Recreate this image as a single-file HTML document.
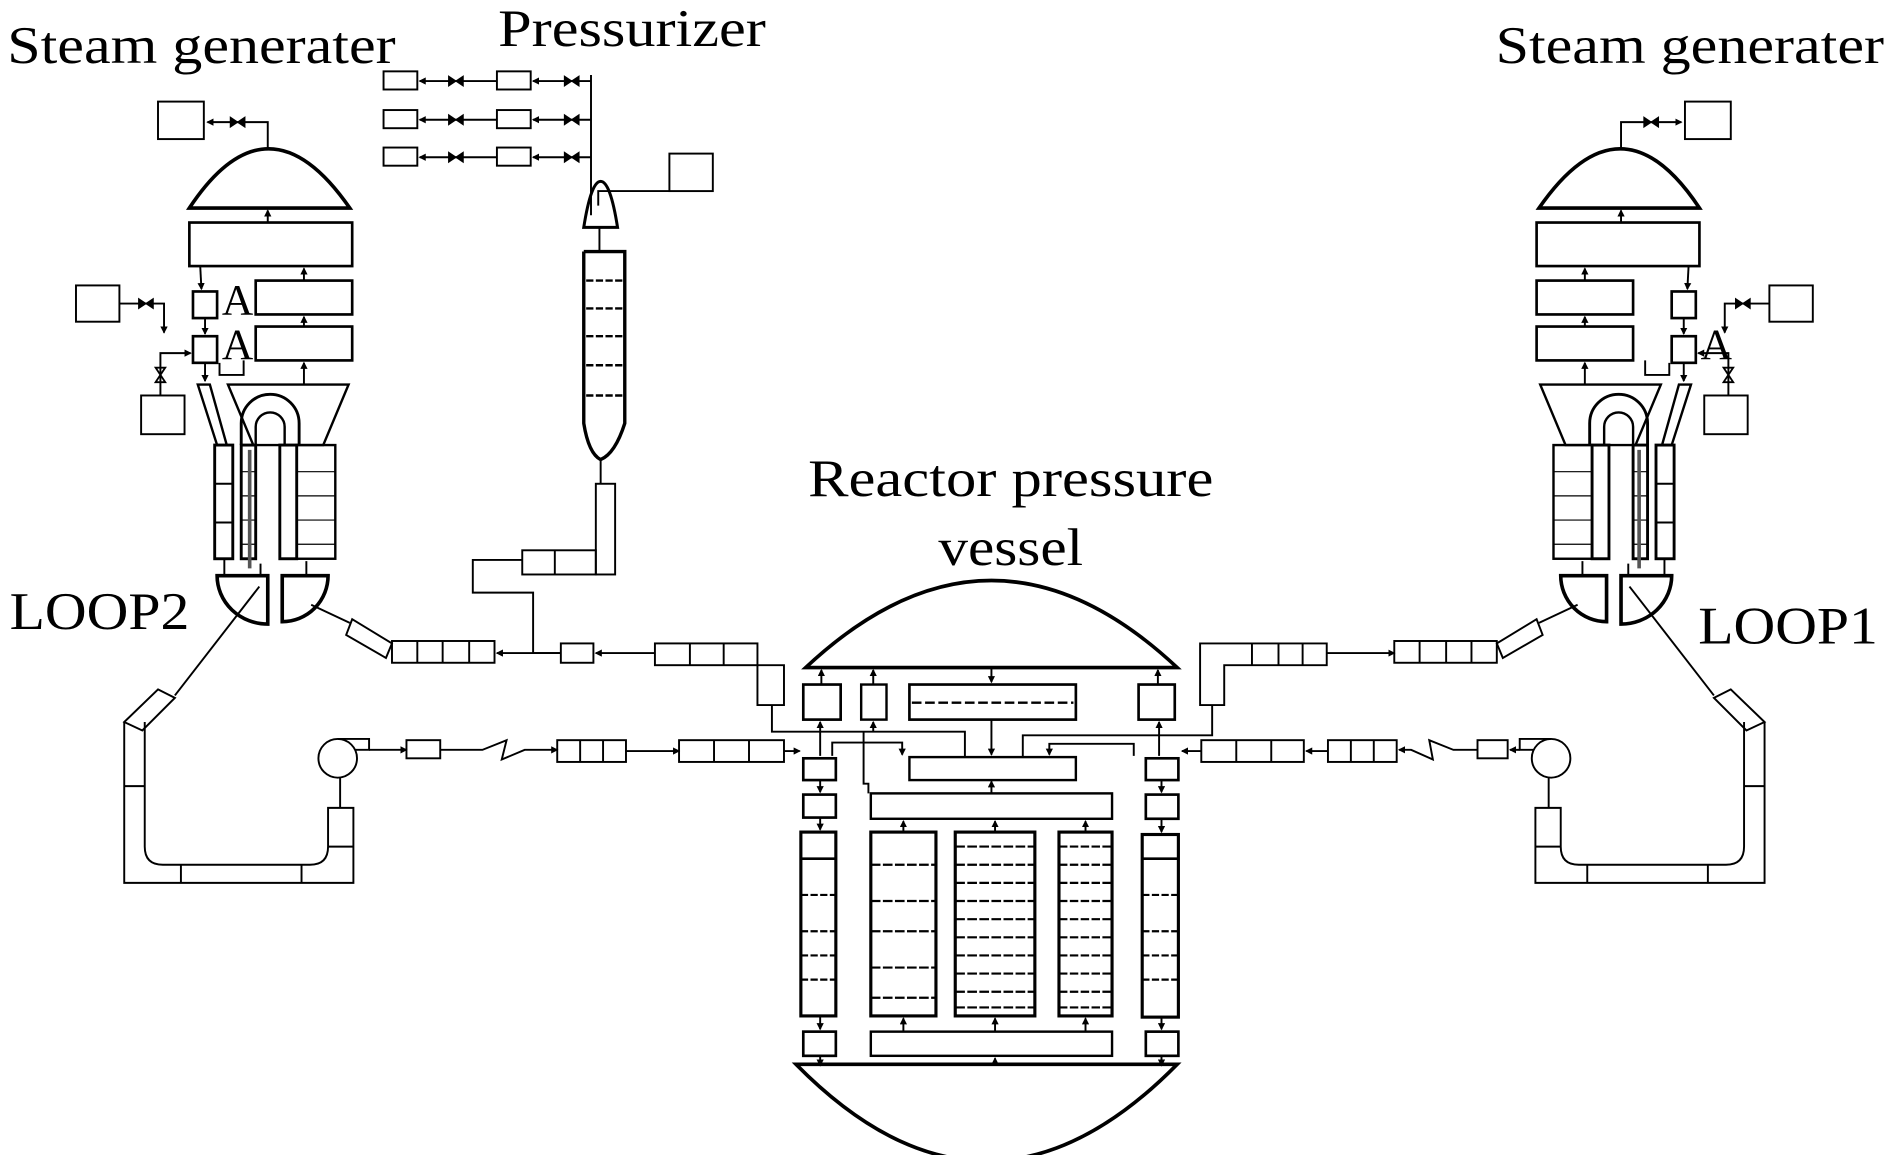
<!DOCTYPE html>
<html><head><meta charset="utf-8"><style>
html,body{margin:0;padding:0;background:#fff;width:1890px;height:1155px;overflow:hidden}
svg{display:block}
text{font-family:"Liberation Serif",serif;font-size:44px;fill:#000}
</style></head><body>
<svg width="1890" height="1155" viewBox="0 0 1567 955" preserveAspectRatio="none" xmlns="http://www.w3.org/2000/svg">
<defs>
<marker id="a" markerWidth="6" markerHeight="6" refX="5" refY="3" orient="auto" markerUnits="userSpaceOnUse"><path d="M0,0 L6,3 L0,6 Z" fill="#000"/></marker>
<g id="valveH"><path d="M-6,-4 L6,4 L6,-4 L-6,4 Z" fill="#000" stroke="#000" stroke-width="1"/></g>
<g id="valveV"><path d="M-4,-6 L4,6 L-4,6 L4,-6 Z" fill="none" stroke="#000" stroke-width="1.5"/></g>
<g id="sg" fill="none" stroke="#000" stroke-width="1.6">
 <rect x="131" y="84" width="38" height="31"/>
 <path d="M222,123 V101 H172" marker-end="url(#a)"/>
 <use href="#valveH" x="197" y="101"/>
 <path d="M157,172 Q222,74 290,172 Z" stroke-width="3"/>
 <path d="M222,184 V174" marker-end="url(#a)"/>
 <rect x="157" y="184" width="135" height="36" stroke-width="2.2"/>
 <rect x="212" y="232" width="80" height="28" stroke-width="2.2"/>
 <rect x="212" y="270" width="80" height="28" stroke-width="2.2"/>
 <path d="M252,232 V222" marker-end="url(#a)"/>
 <path d="M252,270 V262" marker-end="url(#a)"/>
 <path d="M252,318 V300" marker-end="url(#a)"/>
 <rect x="160" y="241" width="20" height="22" stroke-width="2.2"/>
 <rect x="160" y="278" width="20" height="22" stroke-width="2.2"/>
 <path d="M166,220 L167,239" marker-end="url(#a)"/>
 <path d="M170,263 V276" marker-end="url(#a)"/>
 <path d="M170,300 V315" marker-end="url(#a)"/>
 <path d="M182,300 V310 H202 V298"/>
 <rect x="63" y="236" width="36" height="30"/>
 <path d="M99,251 H136 V275" marker-end="url(#a)"/>
 <use href="#valveH" x="121" y="251"/>
 <path d="M133,327 V292 H158" marker-end="url(#a)"/>
 <use href="#valveV" x="133" y="310"/>
 <rect x="117" y="327" width="36" height="32"/>
 <path d="M189,318 H289 L268,368 H210 Z" stroke-width="2"/>
 <path d="M164,318 H174 L188,368 H180 Z" stroke-width="2"/>
 <rect x="178" y="368" width="15" height="94" stroke-width="2.4"/>
 <path d="M178,400 H193 M178,432 H193"/>
 <rect x="200" y="368" width="12" height="94" stroke-width="2.4"/>
 <rect x="232" y="368" width="14" height="94" stroke-width="2.4"/>
 <rect x="246" y="368" width="32" height="94" stroke-width="2"/>
 <path d="M246,390 H278 M246,410 H278 M246,430 H278 M246,450 H278 M200,390 H212 M200,410 H212 M200,430 H212 M200,450 H212" stroke-width="1"/>
 <path d="M200,368 V350 A24,24 0 0 1 248,350 V368" stroke-width="2.4"/>
 <path d="M212,368 V353 A12,12 0 0 1 236,353 V368" stroke-width="2"/>
 <path d="M207,372 V470" stroke="#555" stroke-width="3"/>
 <path d="M180,476 H222 V516 A42,40 0 0 1 180,476 Z" stroke-width="3"/>
 <path d="M234,476 H272 A38,38 0 0 1 234,514 Z" stroke-width="3"/>
 <path d="M186,462 V476 M254,476 V464 M216,476 V466"/>
 <path d="M215,485 L145,575"/>
 <path d="M131,570 L145,577 L118,604 L103,597 Z"/>
 <path d="M103,597 V730 H293 V668 H272 V700 Q272,715 257,715 H135 Q120,715 120,700 V597"/>
 <path d="M103,650 H120 M293,700 H272 M150,715 V730 M250,715 V730"/>
 <circle cx="280" cy="627" r="16"/>
 <path d="M280,611 H306 V620 H294"/>
 <path d="M282,643 V668"/>
 <path d="M258,500 L290,515"/>
 <path d="M292,512 L325,532 L320,544 L287,525 Z"/>
 <rect x="325" y="530" width="85" height="18"/>
 <path d="M346,530 V548 M367,530 V548 M389,530 V548"/>
</g>
</defs>

<use href="#sg"/>
<use href="#sg" transform="translate(1566,0) scale(-1,1)"/>

<g fill="none" stroke="#000" stroke-width="1.6">
 <path d="M306,620 H337" marker-end="url(#a)"/>
 <rect x="337" y="612" width="28" height="15"/>
 <path d="M365,620 H400 L420,612 L416,628 L435,620 H462" marker-end="url(#a)"/>
 <rect x="462" y="612" width="57" height="18"/>
 <path d="M481,612 V630 M500,612 V630"/>
 <path d="M519,621 H563" marker-end="url(#a)"/>
 <rect x="563" y="612" width="87" height="18"/>
 <path d="M592,612 V630 M621,612 V630"/>
 <path d="M465,540 H412" marker-end="url(#a)"/>
 <rect x="465" y="532" width="27" height="16"/>
 <path d="M543,540 H494" marker-end="url(#a)"/>
 <rect x="543" y="532" width="85" height="18"/>
 <path d="M572,532 V550 M600,532 V550"/>
 <path d="M628,550 H650 V583 H628 Z"/>
 <path d="M650,621 H663" marker-end="url(#a)"/>
 <path d="M995,532 H1100 V550 H1015 V583 H995 Z"/>
 <path d="M1038,532 V550 M1060,532 V550 M1080,532 V550"/>
 <path d="M1100,540 H1156" marker-end="url(#a)"/>
 <rect x="1225" y="612" width="25" height="15"/>
 <path d="M1260,620 H1252" marker-end="url(#a)"/>
 <path d="M1225,620 H1205 L1185,612 L1188,628 L1170,620 H1160" marker-end="url(#a)"/>
 <rect x="1101" y="612" width="57" height="18"/>
 <path d="M1120,612 V630 M1139,612 V630"/>
 <path d="M1101,621 H1083" marker-end="url(#a)"/>
 <rect x="996" y="612" width="85" height="18"/>
 <path d="M1025,612 V630 M1054,612 V630"/>
 <path d="M996,621 H980" marker-end="url(#a)"/>
 <path d="M490,178 V62"/>
 <rect x="318" y="59" width="28" height="15"/><rect x="412" y="59" width="28" height="15"/>
 <rect x="318" y="91" width="28" height="15"/><rect x="412" y="91" width="28" height="15"/>
 <rect x="318" y="122" width="28" height="15"/><rect x="412" y="122" width="28" height="15"/>
 <path d="M490,67 H442" marker-end="url(#a)"/><path d="M412,67 H348" marker-end="url(#a)"/>
 <path d="M490,99 H442" marker-end="url(#a)"/><path d="M412,99 H348" marker-end="url(#a)"/>
 <path d="M490,130 H442" marker-end="url(#a)"/><path d="M412,130 H348" marker-end="url(#a)"/>
 <use href="#valveH" x="378" y="67"/><use href="#valveH" x="474" y="67"/>
 <use href="#valveH" x="378" y="99"/><use href="#valveH" x="474" y="99"/>
 <use href="#valveH" x="378" y="130"/><use href="#valveH" x="474" y="130"/>
 <path d="M484,188 Q490,150 498,150 Q506,150 512,188 Z" stroke-width="2.5"/>
 <path d="M496,170 V158 H555"/>
 <rect x="555" y="127" width="36" height="31"/>
 <path d="M497,188 V208"/>
 <path d="M484,208 V350 Q488,375 498,380 Q510,375 518,350 V208 H484" stroke-width="2.8"/>
 <path d="M486,232 H516 M486,255 H516 M486,278 H516 M486,302 H516 M486,327 H516" stroke-dasharray="6,2" stroke-width="2"/>
 <path d="M498,380 V400"/>
 <rect x="494" y="400" width="16" height="75"/>
 <rect x="433" y="455" width="61" height="20"/>
 <path d="M460,455 V475"/>
 <path d="M433,463 H392 V490 H442 V540 H465"/>
 <path d="M668,552 Q822,408 976,552 Z" stroke-width="3"/>
 <path d="M660,880 Q818,1040 976,880 Z" stroke-width="3"/>
 <rect x="666" y="566" width="31" height="29" stroke-width="2.2"/>
 <rect x="714" y="566" width="21" height="29" stroke-width="2"/>
 <rect x="754" y="566" width="138" height="29" stroke-width="2.2"/>
 <path d="M756,581 H890" stroke-dasharray="8,3" stroke-width="2"/>
 <rect x="944" y="566" width="30" height="29" stroke-width="2.2"/>
 <path d="M681,566 V554" marker-end="url(#a)"/>
 <path d="M724,566 V554" marker-end="url(#a)"/>
 <path d="M960,566 V554" marker-end="url(#a)"/>
 <path d="M822,552 V564" marker-end="url(#a)"/>
 <path d="M822,595 V624" marker-end="url(#a)"/>
 <rect x="754" y="626" width="138" height="19" stroke-width="2"/>
 <path d="M640,583 V605 H680 M680,605 V597" marker-end="url(#a)"/>
 <path d="M680,605 V625"/>
 <path d="M680,605 H800 V626"/>
 <path d="M724,605 V597" marker-end="url(#a)"/>
 <path d="M690,625 V614 H748 V624" marker-end="url(#a)"/>
 <path d="M848,626 V608 H1005 V583"/>
 <path d="M961,608 V597" marker-end="url(#a)"/>
 <path d="M961,608 V625"/>
 <path d="M940,625 V615 H870 V624" marker-end="url(#a)"/>
 <path d="M716,605 V648 H720 V656"/>
 <rect x="666" y="627" width="27" height="18" stroke-width="2.2"/>
 <rect x="666" y="657" width="27" height="19" stroke-width="2.2"/>
 <rect x="664" y="688" width="29" height="152" stroke-width="2.6"/>
 <path d="M664,710 H693" stroke-width="2.2"/>
 <path d="M664,740 H693 M664,770 H693 M664,790 H693 M664,810 H693" stroke-dasharray="6,2" stroke-width="1.8"/>
 <rect x="666" y="853" width="27" height="20" stroke-width="2.2"/>
 <path d="M680,645 V655" marker-end="url(#a)"/>
 <path d="M680,676 V686" marker-end="url(#a)"/>
 <path d="M680,840 V851" marker-end="url(#a)"/>
 <path d="M680,873 V881" marker-end="url(#a)"/>
 <rect x="950" y="627" width="27" height="18" stroke-width="2.2"/>
 <rect x="950" y="657" width="27" height="20" stroke-width="2.2"/>
 <rect x="947" y="690" width="30" height="151" stroke-width="2.6"/>
 <path d="M947,710 H977" stroke-width="2.2"/>
 <path d="M947,740 H977 M947,770 H977 M947,790 H977 M947,810 H977" stroke-dasharray="6,2" stroke-width="1.8"/>
 <rect x="950" y="853" width="27" height="20" stroke-width="2.2"/>
 <path d="M963,645 V655" marker-end="url(#a)"/>
 <path d="M963,677 V688" marker-end="url(#a)"/>
 <path d="M963,841 V851" marker-end="url(#a)"/>
 <path d="M963,873 V881" marker-end="url(#a)"/>
 <rect x="722" y="656" width="200" height="21" stroke-width="2"/>
 <path d="M822,656 V646" marker-end="url(#a)"/>
 <rect x="722" y="688" width="54" height="152" stroke-width="2.6"/>
 <rect x="792" y="688" width="66" height="152" stroke-width="2.6"/>
 <rect x="878" y="688" width="44" height="152" stroke-width="2.6"/>
 <path d="M722,715 H776 M722,745 H776 M722,770 H776 M722,800 H776 M722,825 H776" stroke-dasharray="8,2" stroke-width="1.8"/>
 <path d="M792,700 H858 M792,715 H858 M792,730 H858 M792,745 H858 M792,760 H858 M792,775 H858 M792,790 H858 M792,805 H858 M792,820 H858 M792,833 H858" stroke-dasharray="8,2" stroke-width="1.8"/>
 <path d="M878,700 H922 M878,715 H922 M878,730 H922 M878,745 H922 M878,760 H922 M878,775 H922 M878,790 H922 M878,805 H922 M878,820 H922 M878,833 H922" stroke-dasharray="7,2" stroke-width="1.8"/>
 <path d="M749,688 V679" marker-end="url(#a)"/>
 <path d="M825,688 V679" marker-end="url(#a)"/>
 <path d="M900,688 V679" marker-end="url(#a)"/>
 <rect x="722" y="853" width="200" height="20" stroke-width="2"/>
 <path d="M749,853 V842" marker-end="url(#a)"/>
 <path d="M825,853 V842" marker-end="url(#a)"/>
 <path d="M900,853 V842" marker-end="url(#a)"/>
 <path d="M825,880 V875" marker-end="url(#a)"/>
</g>

<text x="6" y="52" textLength="322" lengthAdjust="spacingAndGlyphs">Steam generater</text>
<text x="413" y="38" textLength="222" lengthAdjust="spacingAndGlyphs">Pressurizer</text>
<text x="1240" y="52" textLength="322" lengthAdjust="spacingAndGlyphs">Steam generater</text>
<text x="670" y="410" textLength="336" lengthAdjust="spacingAndGlyphs">Reactor pressure</text>
<text x="778" y="467" textLength="120" lengthAdjust="spacingAndGlyphs">vessel</text>
<text x="8" y="520" textLength="149" lengthAdjust="spacingAndGlyphs">LOOP2</text>
<text x="1408" y="532" textLength="149" lengthAdjust="spacingAndGlyphs">LOOP1</text>
<text x="184" y="260" style="font-size:36px">A</text>
<text x="184" y="297" style="font-size:36px">A</text>
<text x="1410" y="297" style="font-size:36px">A</text>
</svg>
</body></html>
